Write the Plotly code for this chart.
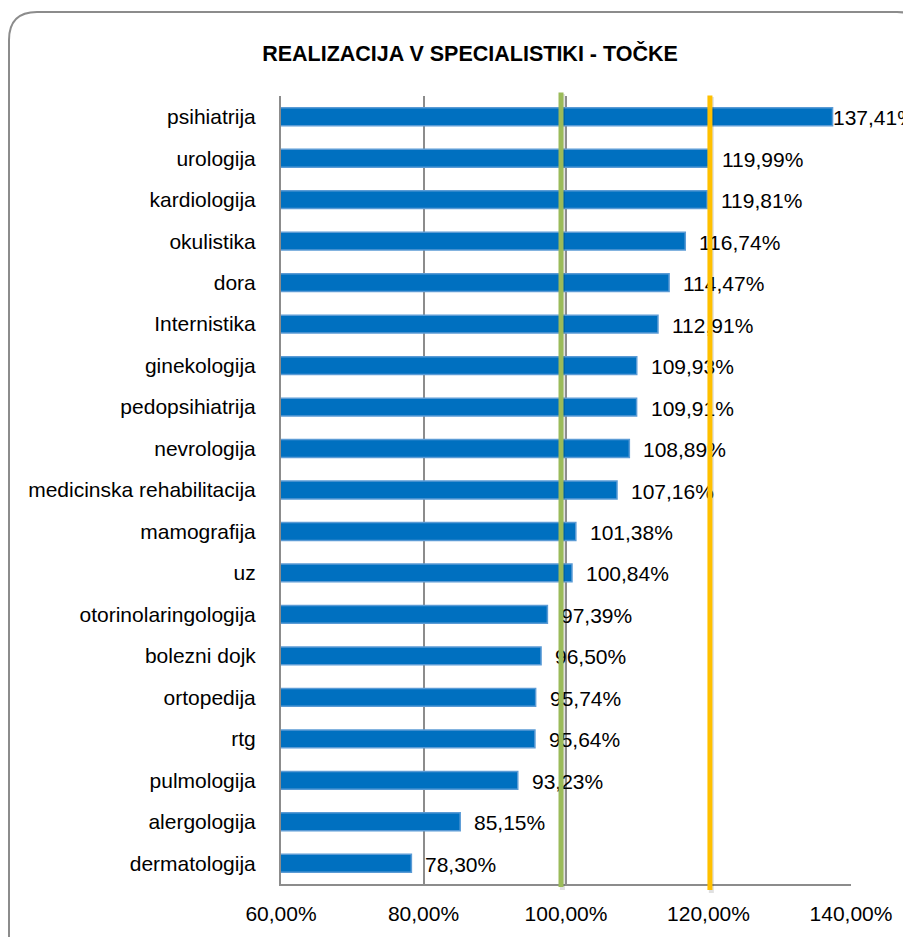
import plotly.graph_objects as go

categories = [
    "psihiatrija", "urologija", "kardiologija", "okulistika", "dora",
    "Internistika", "ginekologija", "pedopsihiatrija", "nevrologija",
    "medicinska rehabilitacija", "mamografija", "uz",
    "otorinolaringologija", "bolezni dojk", "ortopedija", "rtg",
    "pulmologija", "alergologija", "dermatologija",
]
realizacija = [
    137.41, 119.99, 119.81, 116.74, 114.47, 112.91, 109.93, 109.91, 108.89,
    107.16, 101.38, 100.84, 97.39, 96.50, 95.74, 95.64, 93.23, 85.15, 78.30,
]
x_ticks = [60, 80, 100, 120, 140]
x_tick_labels = ["60,00%", "80,00%", "100,00%", "120,00%", "140,00%"]
green_line = 99.3
orange_line = 120.2

# page body has an 8px margin, so everything is placed 8px up/left
OFF = 8
W, H = 911, 937
L, R, T, B = 281 - OFF, 60 + OFF, 96 - OFF, 53 + OFF
PW, PH = W - L - R, H - T - B


def px(x):
    return (x - OFF - L) / PW


def py(y):
    return 1 - (y - OFF - T) / PH


def fmt(v):
    return f"{v:.2f}".replace(".", ",") + "%"


FONT = "Arial, Liberation Sans, sans-serif"
FS = 21

fig = go.Figure(go.Bar(
    x=realizacija,
    y=categories,
    orientation="h",
    width=0.43,
    marker=dict(color="#0070C0", line=dict(color="#5B9BD5", width=1.5)),
    hoverinfo="x+y",
))

# data labels just past each bar end (the longest sits right at the end)
for cat, v in zip(categories, realizacija):
    fig.add_annotation(
        x=v, y=cat, xref="x", yref="y", text=fmt(v),
        showarrow=False, xanchor="left", yanchor="middle",
        xshift=-2 if v > 135 else 12, yshift=-1,
        font=dict(family=FONT, size=FS, color="black"),
    )

# target lines, drawn as arrow-less annotations so they sit over the labels
for xv, col, top, bot in [(green_line, "#9BBB59", 91, 887),
                          (orange_line, "#FFC000", 94, 890)]:
    fig.add_shape(type="line", xref="x", yref="paper",
                  x0=xv + 0.2, x1=xv + 0.2, y0=py(bot + 3), y1=py(top + 3),
                  line=dict(color="rgba(0,0,0,0.12)", width=5), layer="above")
    fig.add_annotation(
        x=xv, y=py(bot), xref="x", yref="paper", text="",
        showarrow=True, arrowhead=0, arrowwidth=5, arrowcolor=col,
        ax=0, ay=-(bot - top), standoff=0, startstandoff=0,
    )

# rounded outer frame
x0, y0, x1, y1, r = 9, 12, 925, 965, 28
path = (
    f"M {px(x0 + r)},{py(y0)} L {px(x1 - r)},{py(y0)} "
    f"Q {px(x1)},{py(y0)} {px(x1)},{py(y0 + r)} "
    f"L {px(x1)},{py(y1 - r)} Q {px(x1)},{py(y1)} {px(x1 - r)},{py(y1)} "
    f"L {px(x0 + r)},{py(y1)} Q {px(x0)},{py(y1)} {px(x0)},{py(y1 - r)} "
    f"L {px(x0)},{py(y0 + r)} Q {px(x0)},{py(y0)} {px(x0 + r)},{py(y0)} Z"
)
fig.add_shape(type="path", xref="paper", yref="paper", path=path,
              line=dict(color="#8C8C8C", width=2), layer="below")

fig.update_layout(
    width=W, height=H,
    margin=dict(l=L, r=R, t=T, b=B),
    paper_bgcolor="white", plot_bgcolor="white",
    showlegend=False,
    title=dict(
        text="<b>REALIZACIJA V SPECIALISTIKI - TOČKE</b>",
        x=(470 - OFF) / W, xanchor="center", y=1 - (53 - OFF) / H,
        yanchor="middle",
        font=dict(family="Liberation Sans Narrow, Arial Narrow, sans-serif",
                  size=21.5, color="black"),
    ),
    xaxis=dict(
        range=[60, 140], tickvals=x_ticks, ticktext=x_tick_labels,
        showgrid=True, gridcolor="#8C8C8C", gridwidth=1.5,
        showline=True, linecolor="#8C8C8C", linewidth=2,
        zeroline=False, ticks="", ticklabelstandoff=10,
        tickfont=dict(family=FONT, size=FS, color="black"),
    ),
    yaxis=dict(
        autorange="reversed", showgrid=False,
        showline=True, linecolor="#8C8C8C", linewidth=2,
        ticks="", ticklabelstandoff=19,
        tickfont=dict(family=FONT, size=FS, color="black"),
    ),
)

fig.write_html("out.html")
